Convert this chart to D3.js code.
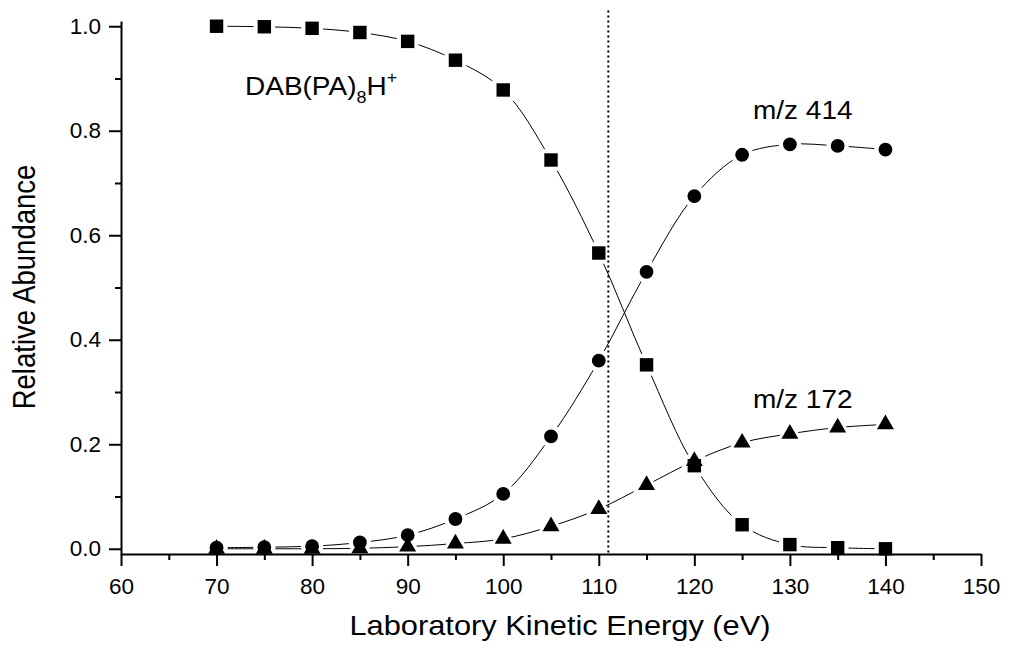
<!DOCTYPE html>
<html>
<head>
<meta charset="utf-8">
<script src="https://cdn.jsdelivr.net/npm/d3@7"></script>
<style>
  html, body { margin: 0; padding: 0; background: #fff; }
  svg { display: block; font-family: "Liberation Sans", Arial, sans-serif; }
</style>
</head>
<body>
<svg id="chart" width="1022" height="645"></svg>
<script>
// Collision energies (eV)
const energy = [70, 75, 80, 85, 90, 95, 100, 105, 110, 115, 120, 125, 130, 135, 140];
// Precursor ion DAB(PA)8H+
const precursor = [1.000, 0.999, 0.996, 0.988, 0.971, 0.935, 0.878, 0.744, 0.566, 0.352, 0.159, 0.046, 0.008, 0.002, 0.000];
// Fragment m/z 414
const frag414 = [0.002, 0.003, 0.005, 0.012, 0.026, 0.057, 0.105, 0.215, 0.360, 0.530, 0.675, 0.754, 0.774, 0.771, 0.764];
// Fragment m/z 172
const frag172 = [0.000, 0.000, 0.000, 0.001, 0.004, 0.010, 0.019, 0.043, 0.076, 0.122, 0.168, 0.203, 0.220, 0.232, 0.238];
// Marked energy threshold
const markerEnergy = [111];

const xTicks = [60, 70, 80, 90, 100, 110, 120, 130, 140, 150];
const xMinor = [65, 75, 85, 95, 105, 115, 125, 135, 145];
const yTicks = [0.0, 0.2, 0.4, 0.6, 0.8, 1.0];
const yMinor = [0.1, 0.3, 0.5, 0.7, 0.9];

const svg = d3.select("#chart");
const x = d3.scaleLinear().domain([60, 150]).range([121, 981]);
const y = d3.scaleLinear().domain([-0.01, 1.01]).range([554, 21]);

// glyphs in this figure are drawn slightly wider than tall
const WIDE = 1.12;

const series = [
  { values: precursor, shape: d3.symbolSquare, size: 180 },
  { values: frag414, shape: d3.symbolCircle, size: 150 },
  { values: frag172, shape: d3.symbolTriangle, size: 125 }
];

const line = d3.line()
  .x(d => x(d[0])).y(d => y(d[1]))
  .curve(d3.curveCatmullRom.alpha(0.5));

// connecting curves
const gLines = svg.append("g");
series.forEach(s => {
  gLines.append("path")
    .datum(energy.map((e, i) => [e, s.values[i]]))
    .attr("d", line)
    .attr("fill", "none")
    .attr("stroke", "#000")
    .attr("stroke-width", 1);
});

// white halos leave a small gap between the curve and each marker
const gHalo = svg.append("g");
series.forEach(s => {
  gHalo.selectAll(null)
    .data(energy.map((e, i) => [e, s.values[i]]))
    .join("path")
    .attr("transform", d => `translate(${x(d[0])},${y(d[1])})`)
    .attr("d", d3.symbol().type(s.shape).size(s.size * 2.6))
    .attr("fill", "#fff");
});

// dotted reference line
svg.selectAll(null).data(markerEnergy).join("line")
  .attr("x1", d => x(d)).attr("x2", d => x(d))
  .attr("y1", y(1.03)).attr("y2", y(-0.01))
  .attr("stroke", "#000")
  .attr("stroke-width", 2)
  .attr("stroke-dasharray", "2,3");

// markers
const gMarks = svg.append("g");
series.forEach(s => {
  gMarks.selectAll(null)
    .data(energy.map((e, i) => [e, s.values[i]]))
    .join("path")
    .attr("transform", d => `translate(${x(d[0])},${y(d[1])})`)
    .attr("d", d3.symbol().type(s.shape).size(s.size))
    .attr("fill", "#000");
});

// axes
const xAxis = svg.append("g").attr("transform", `translate(0,${y(-0.01)})`)
  .call(d3.axisBottom(x).tickValues(xTicks).tickSize(12).tickSizeOuter(0).tickPadding(12).tickFormat(d3.format("d")));
svg.append("g").attr("transform", `translate(0,${y(-0.01)})`)
  .call(d3.axisBottom(x).tickValues(xMinor).tickSize(6).tickSizeOuter(0).tickFormat(""))
  .select(".domain").remove();

const yAxis = svg.append("g").attr("transform", `translate(${x(60)},0)`)
  .call(d3.axisLeft(y).tickValues(yTicks).tickSize(12).tickSizeOuter(0).tickPadding(8).tickFormat(d3.format(".1f")));
svg.append("g").attr("transform", `translate(${x(60)},0)`)
  .call(d3.axisLeft(y).tickValues(yMinor).tickSize(6).tickSizeOuter(0).tickFormat(""))
  .select(".domain").remove();

svg.selectAll(".domain, .tick line").attr("stroke", "#000").attr("stroke-width", 2);
svg.selectAll(".tick text").attr("fill", "#000").attr("font-size", 22.5)
  .attr("font-family", "Liberation Sans, Arial, sans-serif");
xAxis.selectAll(".tick text").attr("dy", "0.71em");

// axis titles
svg.append("text")
  .attr("transform", `translate(560,635) scale(${WIDE},1)`)
  .attr("text-anchor", "middle")
  .attr("font-size", 27.5)
  .text("Laboratory Kinetic Energy (eV)");

svg.append("text")
  .attr("transform", `translate(35,287) scale(${WIDE},1) rotate(-90)`)
  .attr("text-anchor", "middle")
  .attr("font-size", 27.5)
  .text("Relative Abundance");

// series labels
const lab = svg.append("text")
  .attr("transform", `translate(245,95) scale(${WIDE},1)`)
  .attr("font-size", 25);
lab.append("tspan").text("DAB(PA)");
lab.append("tspan").attr("font-size", 16).attr("dy", 8).text("8");
lab.append("tspan").attr("dy", -8).text("H");
lab.append("tspan").attr("font-size", 16).attr("dy", -12).text("+");

svg.append("text").attr("transform", `translate(753,119) scale(${WIDE},1)`)
  .attr("font-size", 25).text("m/z 414");
svg.append("text").attr("transform", `translate(753,408) scale(${WIDE},1)`)
  .attr("font-size", 25).text("m/z 172");
</script>
</body>
</html>
